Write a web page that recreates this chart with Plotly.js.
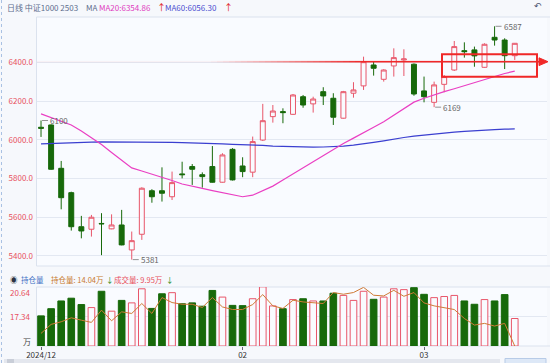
<!DOCTYPE html>
<html><head><meta charset="utf-8">
<script src="https://cdn.plot.ly/plotly-3.0.1.min.js"></script>
<style>html,body{margin:0;padding:0;background:#f6f8fc;}#chart{width:550px;height:363px;}</style>
</head><body><div id="chart"></div>
<script>
const dates = ['2024-12-30','2024-12-31','2025-01-02','2025-01-03','2025-01-06','2025-01-07','2025-01-08','2025-01-09','2025-01-10','2025-01-13','2025-01-14','2025-01-15','2025-01-16','2025-01-17','2025-01-20','2025-01-21','2025-01-22','2025-01-23','2025-01-24','2025-01-27','2025-02-05','2025-02-06','2025-02-07','2025-02-10','2025-02-11','2025-02-12','2025-02-13','2025-02-14','2025-02-17','2025-02-18','2025-02-19','2025-02-20','2025-02-21','2025-02-24','2025-02-25','2025-02-26','2025-02-27','2025-02-28','2025-03-03','2025-03-04','2025-03-05','2025-03-06','2025-03-07','2025-03-10','2025-03-11','2025-03-12','2025-03-13','2025-03-14'];
const openP  = [6065,6077,5853,5727,5551,5538,5568,5540,5560,5431,5512,5737,5737,5706,5824,5862,5820,5862,5781,5951,5865,5833,5999,6120,6146,6132,6223,6186,6249,6215,6112,6241,6279,6387,6313,6382,6413,6391,6253,6194,6287,6361,6461,6465,6375,6530,6516,6435];
const highP  = [6100,6080,5891,5732,5607,5612,5621,5615,5638,5526,5755,5745,5858,5836,5887,5875,5832,5968,5931,5957,5910,6017,6186,6180,6163,6237,6232,6223,6272,6241,6253,6298,6430,6404,6365,6473,6468,6395,6327,6301,6335,6511,6504,6482,6499,6587,6525,6500];
const lowP   = [6015,5845,5641,5531,5491,5500,5404,5538,5455,5381,5483,5675,5681,5689,5801,5767,5753,5779,5779,5790,5807,5807,5994,6089,6086,6129,6166,6141,6180,6077,6110,6218,6258,6332,6301,6327,6330,6228,6194,6169,6246,6356,6425,6378,6373,6487,6366,6413];
const closeP = [6060,5848,5701,5551,5529,5600,5566,5560,5457,5479,5750,5706,5724,5779,5820,5848,5810,5781,5922,5793,5836,5991,6099,6149,6141,6232,6180,6211,6227,6117,6249,6258,6404,6370,6361,6425,6418,6237,6223,6284,6327,6482,6456,6434,6494,6516,6435,6499];
const ma20 = [6134,6116,6095,6077,6046,6012,5976,5935,5896,5855,5839,5824,5808,5790,5772,5759,5749,5738,5728,5718,5706,5714,5737,5761,5792,5824,5854,5887,5919,5952,5981,6009,6035,6065,6094,6127,6160,6195,6215,6233,6249,6264,6280,6295,6311,6327,6343,6354.86];
const ma60 = [5979,5980,5981,5983,5985,5988,5990,5990,5990,5989,5989,5988,5988,5987,5986,5985,5983,5981,5979,5977,5976,5974,5971,5968,5966,5964,5963,5962,5963,5965,5968,5973,5979,5987,5995,6005,6012,6019,6025,6031,6036,6040,6044,6048,6051,6053,6055,6056.30];
const volume = [10.9,13.5,16.3,17.3,15.0,13.9,19.8,12.6,16.5,15.6,20.7,13.6,18.9,19.3,15.3,15.6,14.4,20.1,17.7,14.7,14.6,17.1,21.4,14.5,13.5,16.8,17.1,16.3,16.3,19.1,18.3,16.5,19.8,16.9,17.7,20.7,20.4,21.1,18.7,17.5,17.9,18.3,16.3,15.1,16.8,16.3,18.6,9.95];
const openInterest = [15.45,16.46,16.75,17.19,16.93,16.68,18.05,16.86,17.86,17.68,18.79,17.68,19.46,18.90,18.71,18.71,18.35,19.46,18.41,18.12,18.12,18.68,19.79,18.53,18.24,19.16,18.97,18.90,18.79,20.02,19.83,20.02,20.60,19.72,19.64,20.27,19.60,20.02,18.86,18.53,18.30,18.12,17.12,16.38,16.57,16.27,16.57,14.04];
const priceTicks = [5400,5600,5800,6000,6200,6400];
const oiTicks = [14.04,17.34,20.64];
const tickDates = ['2024-12-30','2025-02-05','2025-03-03'];
const tickLabels = ['2024/12','02','03'];

const RED='#e8566a', GREEN='#17690a', FONT='"Noto Sans CJK SC", "Noto Sans", sans-serif';
const W=550,H=363,L=37,R=3,T=17,B=17, PW=W-L-R, PH=H-T-B;
const px = x => (x-L)/PW;
const py = y => (H-B-y)/PH;
const last = a => a[a.length-1];

const isUp = closeP.map((c,i)=>c>=openP[i]);
const traces = [
  {type:'bar', x:dates, y:volume, xaxis:'x', yaxis:'y2', width:0.66,
   marker:{color:isUp.map(u=>u?'#f9fbff':GREEN), line:{color:isUp.map(u=>u?RED:GREEN), width:1}}, hoverinfo:'skip'},
  {type:'scatter', mode:'lines', x:dates, y:openInterest, xaxis:'x', yaxis:'y3', line:{color:'#cf7a36', width:1}, hoverinfo:'skip'},
  {type:'scatter', mode:'lines', x:dates, y:ma60, xaxis:'x', yaxis:'y', line:{color:'#3b3fd0', width:1.2}, hoverinfo:'skip'},
  {type:'scatter', mode:'lines', x:dates, y:ma20, xaxis:'x', yaxis:'y', line:{color:'#ea3fc3', width:1.2}, hoverinfo:'skip'},
  {type:'candlestick', x:dates, open:openP, high:highP, low:lowP, close:closeP, xaxis:'x', yaxis:'y',
   increasing:{line:{color:RED,width:1}, fillcolor:'#f9fbff'},
   decreasing:{line:{color:GREEN,width:1}, fillcolor:GREEN}, whiskerwidth:0, hoverinfo:'skip'}
];

const ann = [];
function txt(x,y,text,color,size,anchor){ann.push({xref:'paper',yref:'paper',x:px(x),y:py(y),text:text,showarrow:false,xanchor:anchor||'left',yanchor:'middle',font:{family:FONT,size:size||8,color:color}});}
txt(5,7,'日线 中证1000 2503','#5d6d8e');
txt(84,7,'MA','#5d6d8e');
txt(97,7,'MA20:'+last(ma20).toFixed(2),'#e040c0');
txt(155,7,'↑','#e02020',9);
txt(163,7,'MA60:'+last(ma60).toFixed(2),'#4a4ed0');
txt(222,7,'↑','#e02020',9);
txt(538,6,'↶','#4a5570',9,'center');
txt(8,279,'◉','#2c3444',7.5);
txt(19,279,'持仓量','#3d6fc4',7.5);
txt(49,279,'持仓量: '+last(openInterest).toFixed(2)+'万','#c8792d',7.5);
txt(104,279,'↓','#2a8a1a',7.5);
txt(112,279,'成交量: '+last(volume).toFixed(2)+'万','#e8505c',7.5);
txt(164,279,'↓','#2a8a1a',7.5);
txt(33,292,oiTicks[2].toFixed(2),'#e8505c',8,'right');
txt(33,316.5,oiTicks[1].toFixed(2),'#e8505c',8,'right');
txt(33,341,'万','#444',8,'right');
function mark(i,val){ann.push({xref:'x',yref:'y',x:dates[i],y:val,text:String(val),showarrow:true,arrowhead:0,arrowwidth:0.8,arrowcolor:'#777',ax:7,ay:0,xanchor:'left',standoff:1,font:{family:FONT,size:8,color:'#666'}});}
mark(0,highP[0]); mark(9,lowP[9]); mark(39,lowP[39]); mark(45,highP[45]);

const shapes = [];
shapes.push({type:'rect',xref:'paper',yref:'paper',x0:px(36.5),x1:px(551),y0:py(266),y1:py(17),line:{color:'#dbe2ee',width:1},layer:'below'});
shapes.push({type:'rect',xref:'paper',yref:'paper',x0:px(36.5),x1:px(551),y0:py(346),y1:py(287),line:{color:'#dbe2ee',width:1},layer:'below'});
shapes.push({type:'line',xref:'paper',yref:'paper',x0:px(1.5),x1:px(1.5),y0:py(0),y1:py(363),line:{color:'#a9c1e3',width:1,dash:'dot'}});
// scrollbar
shapes.push({type:'rect',xref:'paper',yref:'paper',x0:px(4),x1:px(500),y0:py(363),y1:py(359),fillcolor:'#e4e7ee',line:{width:0},layer:'below'});
shapes.push({type:'rect',xref:'paper',yref:'paper',x0:px(7),x1:px(14),y0:py(363),y1:py(359),fillcolor:'#c9ced8',line:{width:0},layer:'below'});
shapes.push({type:'rect',xref:'paper',yref:'paper',x0:px(505),x1:px(546),y0:py(364),y1:py(358.5),fillcolor:'#dde8f7',line:{color:'#b7cbe7',width:1},layer:'below'});
// drawn red line with fading start
const lineY = py(61.7);
for(let x=37;x<539;x+=6){
  const a=Math.min(1,Math.max(0.04,(x-200)/160));
  shapes.push({type:'line',xref:'paper',yref:'paper',x0:px(x),x1:px(Math.min(x+6,540)),y0:lineY,y1:lineY,line:{color:'#f02828',width:1.6},opacity:a});
}
shapes.push({type:'path',xref:'paper',yref:'paper',path:`M ${px(539)} ${py(57.8)} L ${px(548)} ${py(61.7)} L ${px(539)} ${py(65.6)} Z`,fillcolor:'#f02828',line:{color:'#f02828',width:1}});
shapes.push({type:'rect',xref:'paper',yref:'paper',x0:px(442),x1:px(537),y0:py(76.7),y1:py(54.3),line:{color:'#f02828',width:2}});

const layout = {
  width:W,height:H,margin:{l:L,r:R,t:T,b:B},
  paper_bgcolor:'#f6f8fc',plot_bgcolor:'#f9fbff',showlegend:false,
  font:{family:FONT,size:8,color:'#333'},
  xaxis:{type:'category',domain:[0,1],range:[-0.4,50.2],anchor:'y2',rangeslider:{visible:false},
    tickvals:tickDates,ticktext:tickLabels,ticks:'outside',ticklen:3,tickcolor:'#667',ticklabelstandoff:-2,
    tickfont:{size:8,color:'#333'},showgrid:false,zeroline:false,showline:false},
  yaxis:{domain:[py(266),py(17)],range:[5348,6635],tickvals:priceTicks,tickformat:'.1f',
    tickfont:{size:8,color:'#e8505c'},gridcolor:'#e3e8f2',gridwidth:1,zeroline:false,showline:false,ticklabelstandoff:3},
  yaxis2:{domain:[0,py(287)],range:[0,21.35],tickvals:[0,10.675,21.35],showticklabels:false,
    gridcolor:'#e3e8f2',zeroline:false,showline:false},
  yaxis3:{overlaying:'y2',range:[oiTicks[0],oiTicks[2]],visible:false,showgrid:false},
  annotations:ann,shapes:shapes
};
Plotly.newPlot('chart',traces,layout,{staticPlot:true,displayModeBar:false});
</script></body></html>
